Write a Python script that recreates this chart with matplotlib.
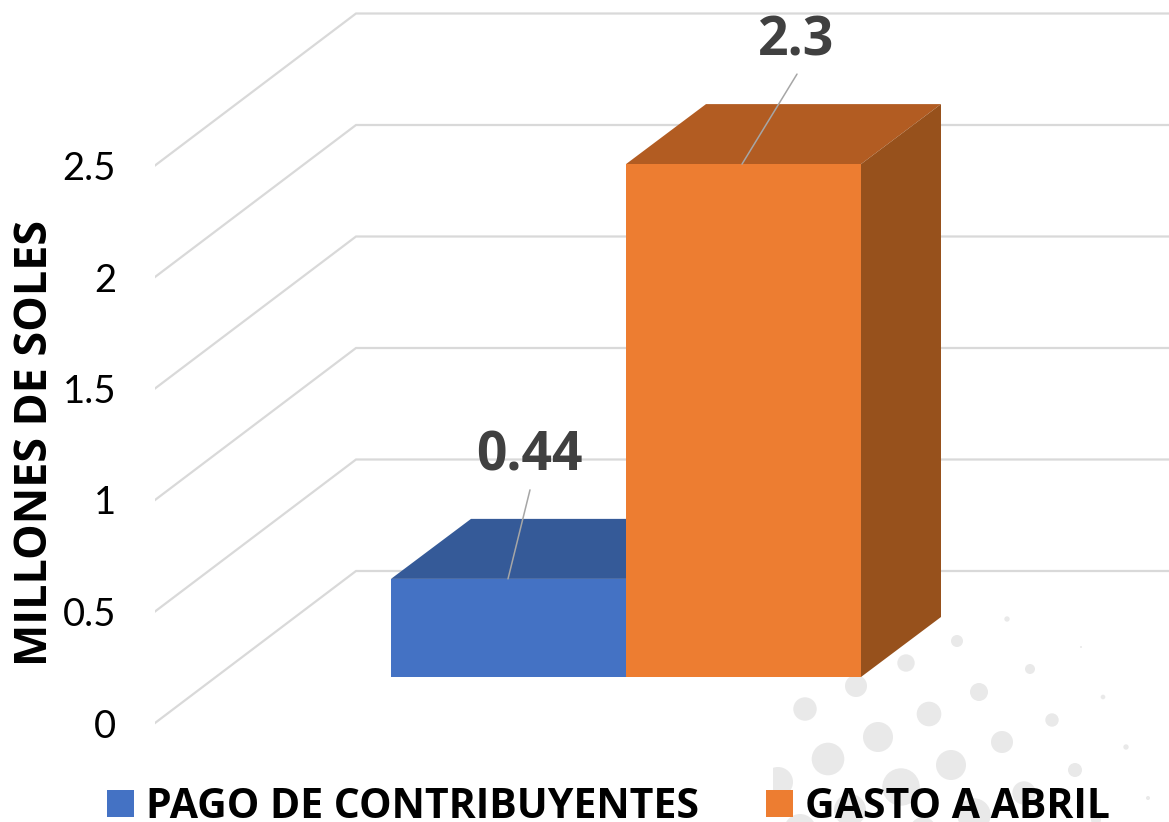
import matplotlib
matplotlib.use('Agg')
import matplotlib.pyplot as plt
from matplotlib.patches import Polygon, Circle, Patch

plt.rcParams['font.family'] = ['Lato', 'DejaVu Sans']
negrita = ['Open Sans', 'DejaVu Sans']

categorias = ['PAGO DE CONTRIBUYENTES', 'GASTO A ABRIL']
valores = [0.44, 2.3]
etiquetas = ['0.44', '2.3']
colores = ['#4472C4', '#ED7D31']
colores_techo = ['#355A98', '#B25C22']
colores_lado = ['#2F528F', '#97511C']
ticks_y = [0, 0.5, 1, 1.5, 2, 2.5]
ticks_txt = ['0', '0.5', '1', '1.5', '2', '2.5']

# puntos decorativos del fondo: x, y, radio en pixeles
puntos_x = [1007, 957, 906, 856, 805, 1081, 1030, 979, 929, 878, 828, 1103, 1052, 1002, 951, 901,
            1126, 1075, 1024, 974, 1148, 778, 850, 800, 923, 1096]
puntos_y = [619, 641, 663, 686, 709, 647, 669, 692, 714, 737, 759, 697, 720, 742, 765, 787,
            747, 770, 793, 815, 798, 782, 810, 830, 830, 820]
puntos_r = [2.7, 6, 8.7, 11, 11.7, 1, 5, 9, 12.3, 15, 16.3, 2.3, 6.7, 11, 15, 18.7,
            2.7, 7, 11.7, 16.7, 2, 15, 16, 16, 13, 5]

W, H = 1169, 822
fig = plt.figure(figsize=(W / 100, H / 100), dpi=100, facecolor='white')

# capa de fondo con los puntos
x_fondo = 773
fondo = fig.add_axes([x_fondo / W, 0, (W - x_fondo) / W, 1], zorder=0)
fondo.set_xlim(x_fondo, W)
fondo.set_ylim(H, 0)
fondo.axis('off')
for px, py, pr in zip(puntos_x, puntos_y, puntos_r):
    fondo.add_patch(Circle((px, py), pr, color='#E9E9E9', lw=0))

# una unidad del eje son 223 px, una categoria son 235 px
UY = 223.0
UX = 235.0
X0 = 391.0   # pixel donde empieza la primera barra
Y0 = 723.0   # pixel del valor 0 en la pared izquierda
x_izq = 155.0

ax = fig.add_axes([x_izq / W, 0, (W - x_izq) / W, 1], zorder=1)
ax.patch.set_alpha(0)
ax.set_xlim((x_izq - X0) / UX, (W - X0) / UX)
ax.set_ylim((Y0 - H) / UY, Y0 / UY)
for s in ax.spines.values():
    s.set_visible(False)

# profundidad de pared y de barra, en unidades de los ejes
pared_dx, pared_dy = 201 / UX, 152 / UY
barra_dx, barra_dy = 80 / UX, 60 / UY
piso = 46 / UY   # las barras empiezan 46 px arriba del 0 de la pared

x_pared = ax.get_xlim()[0]
for t in ticks_y:
    ax.plot([x_pared, x_pared + pared_dx, ax.get_xlim()[1]],
            [t, t + pared_dy, t + pared_dy],
            color='#D9D9D9', lw=1.6, zorder=1, solid_joinstyle='miter')

pos = [0, 1]
for i, v in enumerate(valores):
    ax.bar(pos[i], v, width=1, bottom=piso, align='edge', color=colores[i], lw=0, zorder=3 + i)
    techo = [(pos[i], piso + v), (pos[i] + 1, piso + v),
             (pos[i] + 1 + barra_dx, piso + v + barra_dy), (pos[i] + barra_dx, piso + v + barra_dy)]
    ax.add_patch(Polygon(techo, closed=True, fc=colores_techo[i], lw=0, zorder=2 + i))
    lado = [(pos[i] + 1, piso), (pos[i] + 1 + barra_dx, piso + barra_dy),
            (pos[i] + 1 + barra_dx, piso + v + barra_dy), (pos[i] + 1, piso + v)]
    ax.add_patch(Polygon(lado, closed=True, fc=colores_lado[i], lw=0, zorder=2 + i))

# etiquetas de datos con su linea guia (desplazamiento en pixeles)
guia = [(22, 89), (55, 90)]
texto = [(21, 122), (54, 123)]
centro = [117 / UX, 116 / UX]
for i, v in enumerate(valores):
    xy = (pos[i] + centro[i], piso + v)
    ax.annotate('', xy=xy, xytext=guia[i], textcoords='offset pixels',
                arrowprops=dict(arrowstyle='-', color='#A6A6A6', lw=1.1, shrinkA=0, shrinkB=0), zorder=8)
    ax.annotate(etiquetas[i], xy=xy, xytext=texto[i], textcoords='offset pixels',
                ha='center', va='center', fontsize=38.5, fontweight='bold', color='#404040',
                family=negrita, zorder=8)

ax.set_xticks([])
ax.set_yticks(ticks_y)
ax.set_yticklabels(ticks_txt)
ax.tick_params(axis='y', length=0, pad=28, labelsize=27.5, labelcolor='black')
fig.text(36 / W, 1 - 443 / H, 'MILLONES DE SOLES', rotation=90, ha='center', va='center',
         fontsize=32.3, fontweight='bold', color='black', family=negrita)

handles = [Patch(fc=c, lw=0) for c in colores]
fig.legend(handles, categorias, loc='lower left', bbox_to_anchor=(99 / W, -14 / H), ncol=2, frameon=False,
           prop=dict(family=negrita, size=29.5, weight='bold'), handlelength=0.66, handleheight=0.66,
           handletextpad=0.29, columnspacing=1.63, borderaxespad=0, borderpad=0.2)

fig.savefig('out.png', dpi=100)
